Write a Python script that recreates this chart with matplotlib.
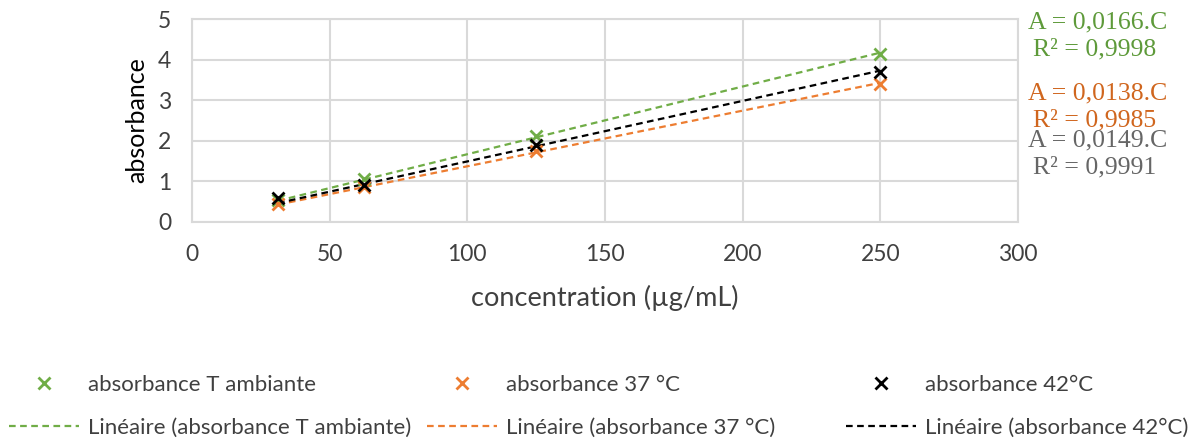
import numpy as np
import matplotlib
from matplotlib import pyplot as plt
from matplotlib.lines import Line2D

plt.rcParams['font.family'] = ['Lato', 'DejaVu Sans']

conc = np.array([31.25, 62.5, 125, 250])
abs_amb = np.array([0.55, 1.05, 2.12, 4.15])
abs_37 = np.array([0.45, 0.85, 1.75, 3.41])
abs_42 = np.array([0.58, 0.92, 1.90, 3.70])

names = ["absorbance T ambiante", "absorbance 37 °C", "absorbance 42°C"]
slopes = ["0,0166", "0,0138", "0,0149"]
r2 = ["0,9998", "0,9985", "0,9991"]
colors = ["#70AD47", "#ED7D31", "#000000"]
text_colors = ["#5E9A3A", "#D0661E", "#666666"]

fig = plt.figure(figsize=(11.9, 4.43), dpi=100)
ax = fig.add_axes([0.1613, 0.499, 0.6942, 0.458])

for y, col in zip([abs_amb, abs_37, abs_42], colors):
    ax.plot(conc, y, ls='none', marker='x', ms=9, mew=2, color=col, zorder=3)
    # regression through origin
    k = np.sum(conc * y) / np.sum(conc * conc)
    xs = np.array([conc[0], conc[-1]])
    ax.plot(xs, k * xs, ls=(0, (3, 2)), lw=1.6, color=col, zorder=2)

ax.set_xlim(0, 300)
ax.set_ylim(0, 5)
ax.set_xticks(np.arange(0, 301, 50))
ax.set_yticks(np.arange(0, 6, 1))
ax.grid(True, color='#d9d9d9', lw=1.5)
ax.set_axisbelow(True)
for s in ax.spines.values():
    s.set_color('#d9d9d9')
    s.set_linewidth(1.5)
ax.tick_params(length=0, labelsize=16.5, colors='#404040')
ax.tick_params(axis='x', pad=16)
ax.tick_params(axis='y', pad=15)
ax.set_xlabel("concentration (µg/mL)", fontsize=19.5, color='#404040', labelpad=14)
ax.set_ylabel("absorbance", fontsize=18, color='#000000', labelpad=7)

ann_y = [(0.950, 0.889), (0.788, 0.729), (0.684, 0.621)]
for (y1, y2), s, r, tc in zip(ann_y, slopes, r2, text_colors):
    fig.text(0.864, y1, "A = %s.C" % s, fontsize=18.5, color=tc,
             family='Liberation Serif', va='center')
    fig.text(0.868, y2, "R² = %s" % r, fontsize=18.5, color=tc,
             family='Liberation Serif', va='center')

# legend entries, placed one by one (same columns for both rows)
col_x = [0.0076, 0.359, 0.711]
for i in range(3):
    h = Line2D([], [], ls='none', marker='x', ms=9, mew=2, color=colors[i])
    fig.legend([h], [names[i]], loc='center left', bbox_to_anchor=(col_x[i], 0.131),
               frameon=False, fontsize=16, handlelength=3.15, handletextpad=0.4,
               borderpad=0, borderaxespad=0, labelcolor='#404040')
    h2 = Line2D([], [], ls=(0, (3, 2)), lw=1.6, color=colors[i])
    fig.legend([h2], ["Linéaire (" + names[i] + ")"], loc='center left',
               bbox_to_anchor=(col_x[i], 0.034), frameon=False, fontsize=16,
               handlelength=3.15, handletextpad=0.4,
               borderpad=0, borderaxespad=0, labelcolor='#404040')

plt.savefig("out.png", dpi=100)
